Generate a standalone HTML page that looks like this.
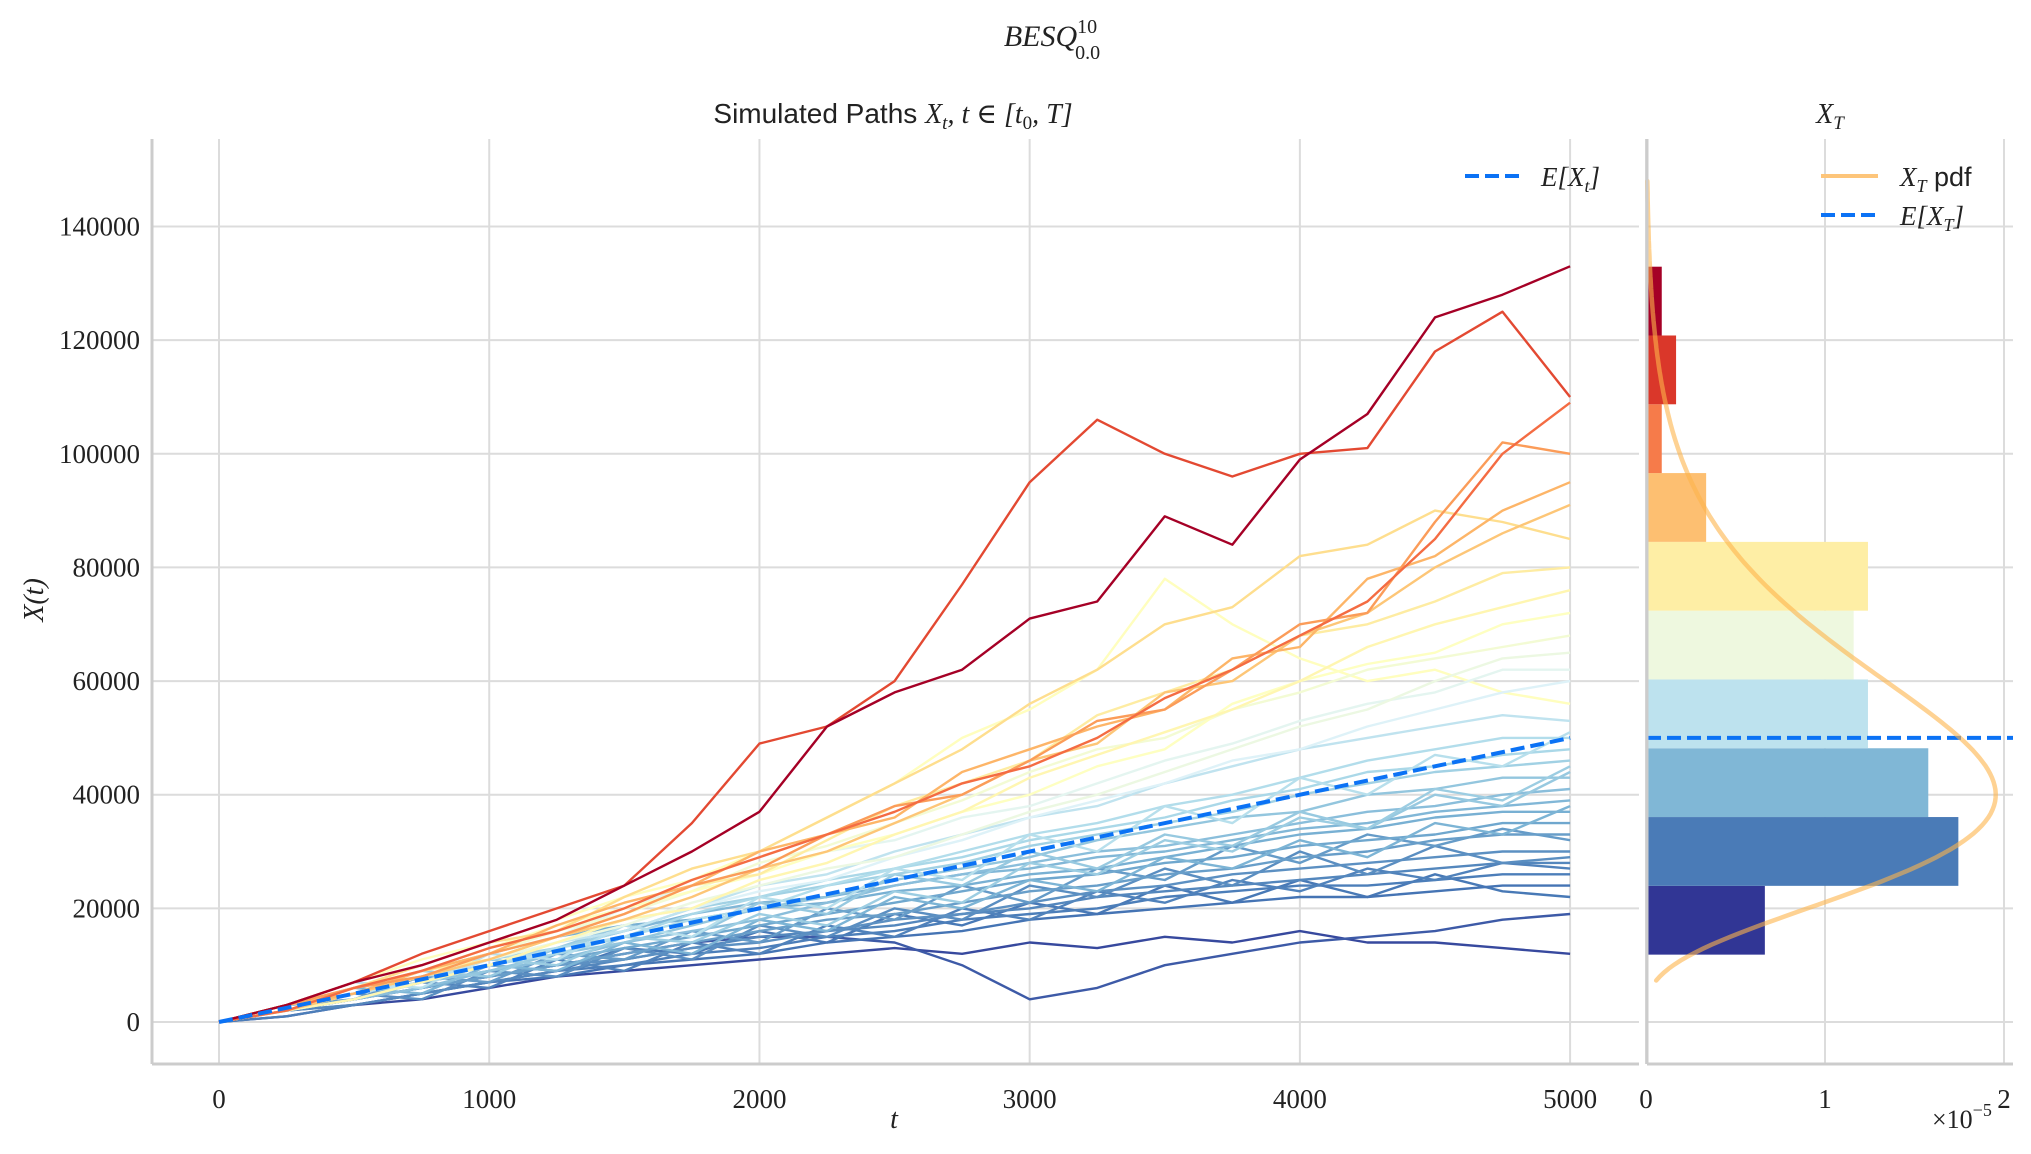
<!DOCTYPE html>
<html><head><meta charset="utf-8"><title>BESQ chart</title>
<style>
html,body{margin:0;padding:0;background:#fff;}
svg{display:block;}
.serif{font-family:"Liberation Serif","DejaVu Serif",serif;}
.sans{font-family:"Liberation Sans","DejaVu Sans",sans-serif;}
</style></head>
<body>
<svg id="chart" width="2031" height="1154" viewBox="0 0 2031 1154" xmlns="http://www.w3.org/2000/svg">
<text class="serif" x="1052" y="46" font-size="30" font-style="italic" text-anchor="middle" fill="#222">BESQ<tspan font-size="20" dy="-13" font-style="normal">10</tspan><tspan font-size="20" dx="-22" dy="26" font-style="normal">0.0</tspan></text>
<text x="893" y="123" font-size="28" text-anchor="middle" fill="#222"><tspan class="sans">Simulated Paths </tspan><tspan class="serif" font-style="italic">X<tspan font-size="19" dy="6">t</tspan><tspan dy="-6">, t ∈ [t</tspan><tspan font-size="19" dy="6" font-style="normal">0</tspan><tspan dy="-6">, T]</tspan></tspan></text>
<text class="serif" x="1830" y="123" font-size="28" font-style="italic" text-anchor="middle" fill="#222">X<tspan font-size="19" dy="6">T</tspan></text>
<g id="grid"></g>
<g id="hist"></g>
<g id="paths"></g>
<g id="overlay"></g>
<g id="axes"></g>
<text class="serif" x="894" y="1128" font-size="28" font-style="italic" text-anchor="middle" fill="#222">t</text>
<text class="serif" font-size="28" font-style="italic" text-anchor="middle" fill="#222" transform="translate(43,600) rotate(-90)">X(t)</text>
<text class="serif" x="1932" y="1128" font-size="26" fill="#222">×10<tspan font-size="18" dy="-12">−5</tspan></text>
<g>
<line x1="1465" y1="176" x2="1522" y2="176" stroke="#0b72f5" stroke-width="4" stroke-dasharray="14,6"/>
<text class="serif" x="1541" y="186" font-size="27" font-style="italic" fill="#222">E[X<tspan font-size="18" dy="6">t</tspan><tspan dy="-6">]</tspan></text>
</g>
<g>
<line x1="1821" y1="176" x2="1878" y2="176" stroke="#fdc57a" stroke-width="4"/>
<text x="1900" y="186" font-size="27" fill="#222"><tspan class="serif" font-style="italic">X<tspan font-size="18" dy="6">T</tspan></tspan><tspan class="sans" dy="-6"> pdf</tspan></text>
<line x1="1821" y1="215" x2="1878" y2="215" stroke="#0b72f5" stroke-width="4" stroke-dasharray="14,6"/>
<text class="serif" x="1900" y="225" font-size="27" font-style="italic" fill="#222">E[X<tspan font-size="18" dy="6">T</tspan><tspan dy="-6">]</tspan></text>
</g>
</svg>
<script>
const tValues = [0,250,500,750,1000,1250,1500,1750,2000,2250,2500,2750,3000,3250,3500,3750,4000,4250,4500,4750,5000];
const path01 = [0,3,7,10,14,18,24,30,37,52,58,62,71,74,89,84,99,107,124,128,133];
const path02 = [0,3,7,12,16,20,24,35,49,52,60,77,95,106,100,96,100,101,118,125,110];
const path03 = [0,2,6,9,13,16,20,25,29,33,37,42,45,50,57,62,68,74,85,100,109];
const path04 = [0,3,6,8,12,15,19,24,27,33,38,40,46,53,55,62,70,72,88,102,100];
const path05 = [0,3,5,9,12,17,21,24,30,33,36,44,48,52,55,64,66,78,82,90,95];
const path06 = [0,2,5,8,11,15,18,22,27,30,35,40,46,49,58,60,68,72,80,86,91];
const path07 = [0,2,6,10,14,16,22,27,30,36,42,48,56,62,70,73,82,84,90,88,85];
const path08 = [0,3,6,9,11,15,19,24,26,32,38,42,46,54,58,62,68,70,74,79,80];
const path09 = [0,2,4,7,10,14,18,20,25,28,33,37,43,47,51,55,60,66,70,73,76];
const path10 = [0,3,6,9,13,17,20,23,26,30,33,37,40,45,48,56,60,63,65,70,72];
const path11 = [0,2,5,9,12,16,19,23,28,31,35,39,44,48,50,55,58,62,64,66,68];
const path12 = [0,3,5,8,11,14,17,21,24,27,29,33,37,40,44,48,52,55,60,64,65];
const path13 = [0,2,5,8,12,15,20,24,27,30,32,36,38,42,46,49,53,56,58,62,62];
const path14 = [0,3,6,9,12,15,18,20,23,25,29,32,36,39,42,46,48,52,55,58,60];
const path15 = [0,3,7,11,14,18,22,25,30,36,42,50,55,62,78,70,64,60,62,58,56];
const path16 = [0,2,5,7,11,14,16,20,24,26,30,33,36,38,42,45,48,50,52,54,53];
const path17 = [0,3,5,8,10,13,15,18,20,24,27,30,33,35,38,40,43,46,48,50,50];
const path18 = [0,2,4,7,10,12,15,19,22,25,27,29,32,34,36,39,41,44,45,47,48];
const path19 = [0,2,5,8,11,13,16,20,22,24,26,28,31,33,35,37,40,42,44,45,46];
const path20 = [0,3,5,7,9,12,14,17,20,22,25,27,29,32,34,36,37,40,41,43,43];
const path21 = [0,2,4,6,9,11,14,16,18,21,24,26,28,30,31,33,35,37,38,40,41];
const path22 = [0,2,5,8,10,13,16,19,21,22,24,26,27,29,30,32,34,35,37,38,39];
const path23 = [0,3,6,9,12,15,17,18,20,21,23,24,26,27,29,31,33,34,36,37,37];
const path24 = [0,2,4,7,9,11,13,15,17,19,21,23,25,26,28,29,31,32,33,35,35];
const path25 = [0,2,4,6,8,10,12,14,16,18,19,21,23,24,26,27,29,30,32,33,33];
const path26 = [0,2,4,6,8,10,11,13,14,16,18,19,21,23,24,26,27,28,29,30,30];
const path27 = [0,2,3,5,7,9,11,13,15,16,17,19,20,22,23,24,25,26,27,28,28];
const path28 = [0,1,3,5,7,9,10,12,13,15,16,18,19,20,22,23,24,24,25,26,26];
const path29 = [0,2,4,6,8,10,12,14,15,15,14,10,4,6,10,12,14,15,16,18,19];
const path30 = [0,1,3,4,6,8,9,10,11,12,13,12,14,13,15,14,16,14,14,13,12];
const path31 = [0,2,3,5,7,8,10,11,12,14,15,16,18,19,20,21,22,22,23,24,24];
const path32 = [0,3,5,9,8,13,17,15,21,19,26,24,30,27,33,31,37,34,40,38,44];
const path33 = [0,2,6,5,10,9,14,12,18,16,22,20,25,23,29,27,32,29,35,33,38];
const path34 = [0,3,4,8,7,12,11,16,14,20,18,24,21,27,25,31,28,33,31,34,32];
const path35 = [0,2,5,4,9,8,13,11,17,15,20,18,24,22,27,24,30,26,31,28,29];
const path36 = [0,3,6,8,11,10,15,14,19,17,23,21,28,26,32,30,36,34,41,39,45];
const path37 = [0,2,4,7,6,11,9,14,12,17,15,20,18,23,21,25,23,27,25,28,27];
const path38 = [0,3,7,6,12,11,17,15,22,20,27,25,33,30,38,35,43,40,47,45,51];
const path39 = [0,2,5,7,10,9,13,12,16,14,19,17,21,19,24,21,25,22,26,23,22];
const histBinStart = 11857;
const histBinWidth = 12107;
const histDensity = [0.664,1.745,1.577,1.24,1.16,1.24,0.336,0.088,0.168,0.088];
const meanFinal = 50000;
const xTicks = [0,1000,2000,3000,4000,5000];
const yTicks = [0,20000,40000,60000,80000,100000,120000,140000];
const histXTicks = [0,1,2];

const paths = [path01,path02,path03,path04,path05,path06,path07,path08,path09,path10,path11,path12,path13,path14,path15,path16,path17,path18,path19,path20,path21,path22,path23,path24,path25,path26,path27,path28,path29,path30,path31,path32,path33,path34,path35,path36,path37,path38,path39];
const NS = "http://www.w3.org/2000/svg";
const L=152, R=1639, T=139, B=1064, HL=1647, HR=2013;
const xMin=-248, xMax=5255, yMin=-7390, yMax=155400;
const X = v => L + (v - xMin) / (xMax - xMin) * (R - L);
const Y = v => B - (v - yMin) / (yMax - yMin) * (B - T);
const HX = d => 1646 + d * 179;
const cmap = ['#313695','#4575b4','#74add1','#abd9e9','#e0f3f8','#ffffbf','#fee090','#fdae61','#f46d43','#d73027','#a50026'];
function hex(c){return [1,3,5].map(i=>parseInt(c.substr(i,2),16));}
function color(f){f=Math.max(0,Math.min(1,f));const p=f*10,i=Math.min(9,Math.floor(p)),r=p-i;const a=hex(cmap[i]),b=hex(cmap[i+1]);return 'rgb('+a.map((v,k)=>Math.round(v+(b[k]-v)*r)).join(',')+')';}
function mk(tag, attrs, parent){const e=document.createElementNS(NS,tag);for(const k in attrs)e.setAttribute(k,attrs[k]);parent.appendChild(e);return e;}
const grid=document.getElementById('grid'), axes=document.getElementById('axes');
xTicks.forEach(t=>{
  const g=mk('line',{x1:X(t),x2:X(t),y1:T,y2:B,stroke:'#dcdcdc','stroke-width':2},grid);
  
  
  const lb=mk('text',{x:X(t),y:1108,'font-size':27,'text-anchor':'middle',fill:'#222',class:'serif'},axes);
  lb.textContent=t;
  
  
});
yTicks.forEach(v=>{
  const g=mk('line',{x1:L,x2:R,y1:Y(v),y2:Y(v),stroke:'#dcdcdc','stroke-width':2},grid);
  
  
  const g2=mk('line',{x1:HL,x2:HR,y1:Y(v),y2:Y(v),stroke:'#dcdcdc','stroke-width':2},grid);
  
  
  const lb=mk('text',{x:140,y:Y(v)+9,'font-size':27,'text-anchor':'end',fill:'#222',class:'serif'},axes);
  lb.textContent=v;
  
  
});
histXTicks.forEach(d=>{
  const g=mk('line',{x1:HX(d),x2:HX(d),y1:T,y2:B,stroke:'#dcdcdc','stroke-width':2},grid);
  
  
  const lb=mk('text',{x:HX(d),y:1108,'font-size':27,'text-anchor':'middle',fill:'#222',class:'serif'},axes);
  lb.textContent=d;
  
  
});
[[L,T,L,B],[L,B,R,B],[HL,T,HL,B],[HL,B,HR,B]].forEach(s=>{
  const e=mk('line',{x1:s[0],y1:s[1],x2:s[2],y2:s[3],stroke:'#cccccc','stroke-width':3},axes);
  
  
});
const hist=document.getElementById('hist');
histDensity.forEach((d,i)=>{
  const y0=histBinStart+i*histBinWidth, y1=y0+histBinWidth;
  const r=mk('rect',{x:HX(0),y:Y(y1),width:HX(d)-HX(0),height:Y(y0)-Y(y1),fill:color(i/9)},hist);
  
  
});
const finals=paths.map(p=>p[p.length-1]);
const fmin=Math.min(...finals), fmax=Math.max(...finals);
const order=paths.map((p,i)=>i).sort((a,b)=>finals[a]-finals[b]);
const pg=document.getElementById('paths');
order.forEach(i=>{
  const p=paths[i];
  const d=p.map((v,k)=>(k?'L':'M')+X(tValues[k]).toFixed(1)+','+Y(v*1000).toFixed(1)).join(' ');
  const f=Math.max((finals[i]-fmin)/(fmax-fmin), (Math.max(...p)-fmin)/(fmax-fmin)*0.92);
  const e=mk('path',{d:d,fill:'none',stroke:color(f),'stroke-width':2.4,'stroke-linejoin':'round'},pg);
  
  
});
const ov=document.getElementById('overlay');
const mean=mk('line',{x1:X(0),y1:Y(0),x2:X(5000),y2:Y(meanFinal),stroke:'#0b72f5','stroke-width':4,'stroke-dasharray':'14,6'},ov);


const hm=mk('line',{x1:HL,y1:Y(meanFinal),x2:HR,y2:Y(meanFinal),stroke:'#0b72f5','stroke-width':4,'stroke-dasharray':'14,6'},ov);


function pdf(x){const z=x/5000;return Math.pow(z,4)*Math.exp(-z/2)/(32*24)/5000;}
let pd='';
for(let x=7300;x<=148000;x+=700){pd+=(pd?'L':'M')+HX(pdf(x)*1e5).toFixed(1)+','+Y(x).toFixed(1)+' ';}
const pc=mk('path',{d:pd,fill:'none',stroke:'#fdb44b','stroke-opacity':0.6,'stroke-width':4.5,'stroke-linecap':'round'},ov);


</script>
</body></html>
